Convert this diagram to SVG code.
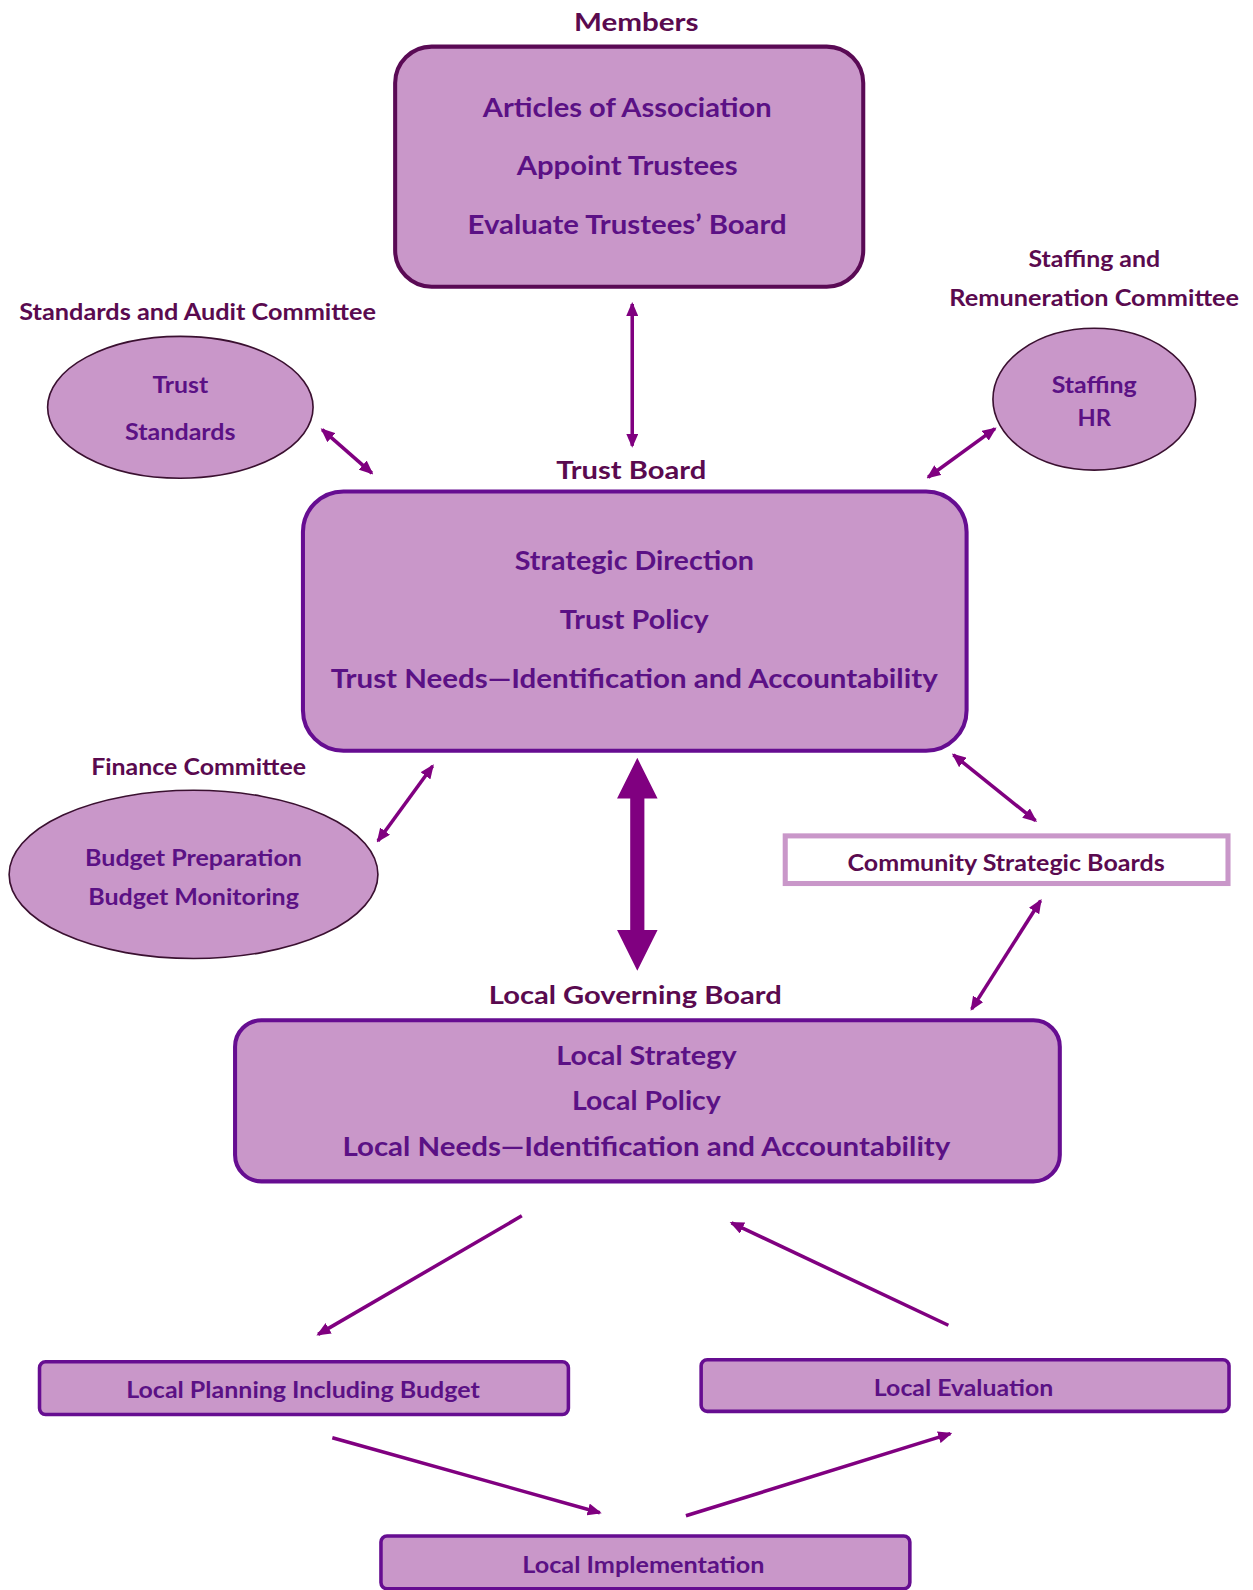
<svg xmlns="http://www.w3.org/2000/svg" width="1253" height="1590" viewBox="0 0 1253 1590">
<style>
text{font-family:Lato,"Open Sans","Liberation Sans",sans-serif;font-weight:bold;text-anchor:middle}
.lbl{fill:#5a0a4f;font-size:24px}
.sub{fill:#5a0a4f;font-size:22px}
.in{fill:#5b1185;font-size:26px}
.ins{fill:#5b1185;font-size:22px}
.box{fill:#c997c9}
.ell{fill:#c997c9;stroke:#3a1030;stroke-width:1.6}
.conn line{stroke:#800080;stroke-width:3.5;fill:none}
</style>
<defs>
<marker id="ah" viewBox="0 0 14 12" refX="12" refY="6" markerWidth="14" markerHeight="12" markerUnits="userSpaceOnUse" orient="auto-start-reverse">
<path d="M0,0 L14,6 L0,12 Z" fill="#800080"/>
</marker>
</defs>
<g id="diagram" transform="scale(1.0132)">
<g id="members">
<text class="lbl" x="628" y="31" textLength="123" lengthAdjust="spacingAndGlyphs">Members</text>
<rect class="box" x="390" y="46" width="462" height="237" rx="36" stroke="#5a0a55" stroke-width="4"/>
<text class="in" x="619" y="115" textLength="285" lengthAdjust="spacingAndGlyphs">Articles of Association</text>
<text class="in" x="619" y="173" textLength="218" lengthAdjust="spacingAndGlyphs">Appoint Trustees</text>
<text class="in" x="619" y="231" textLength="315" lengthAdjust="spacingAndGlyphs">Evaluate Trustees’ Board</text>
</g>

<g id="standards">
<text class="sub" x="195" y="316" textLength="352" lengthAdjust="spacingAndGlyphs">Standards and Audit Committee</text>
<ellipse class="ell" cx="178" cy="402" rx="131" ry="70"/>
<text class="ins" x="178" y="388" textLength="55" lengthAdjust="spacingAndGlyphs">Trust</text>
<text class="ins" x="178" y="434" textLength="109" lengthAdjust="spacingAndGlyphs">Standards</text>
</g>

<g id="staffing">
<text class="sub" x="1080" y="264" textLength="130" lengthAdjust="spacingAndGlyphs">Staffing and</text>
<text class="sub" x="1080" y="302" textLength="286" lengthAdjust="spacingAndGlyphs">Remuneration Committee</text>
<ellipse class="ell" cx="1080" cy="394" rx="100" ry="70"/>
<text class="ins" x="1080" y="388" textLength="84" lengthAdjust="spacingAndGlyphs">Staffing</text>
<text class="ins" x="1080" y="420" textLength="33" lengthAdjust="spacingAndGlyphs">HR</text>
</g>

<g id="trust-board">
<text class="lbl" x="623" y="473" textLength="148" lengthAdjust="spacingAndGlyphs">Trust Board</text>
<rect class="box" x="299" y="485" width="655" height="256" rx="40" stroke="#660d91" stroke-width="4"/>
<text class="in" x="626" y="563" textLength="236" lengthAdjust="spacingAndGlyphs">Strategic Direction</text>
<text class="in" x="626" y="621" textLength="147" lengthAdjust="spacingAndGlyphs">Trust Policy</text>
<text class="in" x="626" y="679" textLength="599" lengthAdjust="spacingAndGlyphs">Trust Needs—Identification and Accountability</text>
</g>

<g id="finance">
<text class="sub" x="196" y="765" textLength="212" lengthAdjust="spacingAndGlyphs">Finance Committee</text>
<ellipse class="ell" cx="191" cy="863" rx="182" ry="83"/>
<text class="ins" x="191" y="855" textLength="214" lengthAdjust="spacingAndGlyphs">Budget Preparation</text>
<text class="ins" x="191" y="893" textLength="208" lengthAdjust="spacingAndGlyphs">Budget Monitoring</text>
</g>

<g id="community">
<rect x="775" y="825" width="437" height="47" fill="#ffffff" stroke="#c997c9" stroke-width="5"/>
<text class="sub" x="993" y="860" textLength="313" lengthAdjust="spacingAndGlyphs">Community Strategic Boards</text>
</g>

<g id="local-governing-board">
<text class="lbl" x="627" y="991" textLength="289" lengthAdjust="spacingAndGlyphs">Local Governing Board</text>
<rect class="box" x="232" y="1007" width="814" height="159" rx="26" stroke="#660d91" stroke-width="4"/>
<text class="in" x="638" y="1051" textLength="178" lengthAdjust="spacingAndGlyphs">Local Strategy</text>
<text class="in" x="638" y="1096" textLength="147" lengthAdjust="spacingAndGlyphs">Local Policy</text>
<text class="in" x="638" y="1141" textLength="600" lengthAdjust="spacingAndGlyphs">Local Needs—Identification and Accountability</text>
</g>

<g id="local-planning">
<rect class="box" x="39" y="1344" width="522" height="52" rx="6" stroke="#660d91" stroke-width="3.5"/>
<text class="ins" x="299" y="1380" textLength="349" lengthAdjust="spacingAndGlyphs">Local Planning Including Budget</text>
</g>

<g id="local-evaluation">
<rect class="box" x="692" y="1342" width="521" height="51" rx="6" stroke="#660d91" stroke-width="3.5"/>
<text class="ins" x="951" y="1378" textLength="177" lengthAdjust="spacingAndGlyphs">Local Evaluation</text>
</g>

<g id="local-implementation">
<rect class="box" x="376" y="1516" width="522" height="52" rx="6" stroke="#660d91" stroke-width="3.5"/>
<text class="ins" x="635" y="1553" textLength="239" lengthAdjust="spacingAndGlyphs">Local Implementation</text>
</g>

<g id="connectors" class="conn">
<line x1="624" y1="300" x2="624" y2="440" marker-start="url(#ah)" marker-end="url(#ah)"/>
<line x1="318" y1="424" x2="367" y2="467" marker-start="url(#ah)" marker-end="url(#ah)"/>
<line x1="982" y1="423" x2="916" y2="471" marker-start="url(#ah)" marker-end="url(#ah)"/>
<line x1="373" y1="830" x2="427" y2="756" marker-start="url(#ah)" marker-end="url(#ah)"/>
<line x1="941" y1="745" x2="1022" y2="810" marker-start="url(#ah)" marker-end="url(#ah)"/>
<line x1="1027" y1="889" x2="959" y2="996" marker-start="url(#ah)" marker-end="url(#ah)"/>
<path d="M629,748 L649,788 L636,788 L636,918 L649,918 L629,958 L609,918 L622,918 L622,788 L609,788 Z" fill="#800080"/>
<line x1="515" y1="1200" x2="314" y2="1317" marker-end="url(#ah)"/>
<line x1="936" y1="1308" x2="722" y2="1207" marker-end="url(#ah)"/>
<line x1="328" y1="1419" x2="592" y2="1493" marker-end="url(#ah)"/>
<line x1="677" y1="1496" x2="938" y2="1415" marker-end="url(#ah)"/>
</g>
</g>
</svg>
